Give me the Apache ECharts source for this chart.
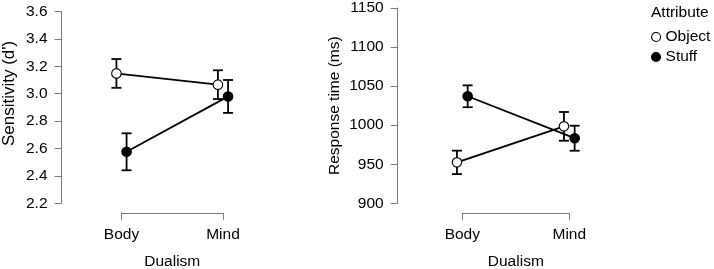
<!DOCTYPE html>
<html>
<head>
<meta charset="utf-8">
<script src="https://cdn.jsdelivr.net/npm/echarts@6/dist/echarts.min.js"></script>
<style>
html,body{margin:0;padding:0;background:#fff;}
#chart{width:714px;height:269px;}
</style>
</head>
<body>
<div id="chart"></div>
<script>
// ---- data ----
const categories = ['Body', 'Mind'];
const groups = ['Object', 'Stuff'];
const legendTitle = 'Attribute';
const xTitle = 'Dualism';

// Sensitivity (d')
const sensObject = [3.148, 3.066];
const sensObjectErr = [0.105, 0.105];
const sensStuff = [2.576, 2.980];
const sensStuffErr = [0.135, 0.120];
const sensTicks = [2.2, 2.4, 2.6, 2.8, 3.0, 3.2, 3.4, 3.6];

// Response time (ms)
const rtObject = [952.4, 998.5];
const rtObjectErr = [15, 18.4];
const rtStuff = [1037.0, 983.3];
const rtStuffErr = [14, 16];
const rtTicks = [900, 950, 1000, 1050, 1100, 1150];

// ---- build ----
const FONT = 'Liberation Sans, Arial, Helvetica, sans-serif';
const FS = 15.5;
const AXIS_GREY = '#7a7a7a';
const DODGE = 0.05;

function pts(vals, shift) {
  return vals.map((v, i) => [i + 1 + shift, v]);
}
function errs(vals, e, shift) {
  return vals.map((v, i) => [i + 1 + shift, v, v - e[i], v + e[i]]);
}

function errSeries(name, idx, data) {
  return {
    name: name,
    type: 'custom',
    xAxisIndex: idx, yAxisIndex: idx,
    clip: false,
    z: 1,
    silent: true,
    data: data,
    renderItem: function (params, api) {
      const x = api.value(0);
      const lo = api.coord([x, api.value(2)]);
      const hi = api.coord([x, api.value(3)]);
      const hw = 5;
      const st = { stroke: '#000', lineWidth: 1.8 };
      return {
        type: 'group',
        children: [
          { type: 'line', shape: { x1: lo[0], y1: lo[1], x2: hi[0], y2: hi[1] }, style: st },
          { type: 'line', shape: { x1: lo[0] - hw, y1: lo[1], x2: lo[0] + hw, y2: lo[1] }, style: st },
          { type: 'line', shape: { x1: hi[0] - hw, y1: hi[1], x2: hi[0] + hw, y2: hi[1] }, style: st }
        ]
      };
    }
  };
}

function lineSeries(name, idx, data, filled) {
  return {
    name: name,
    type: 'line',
    xAxisIndex: idx, yAxisIndex: idx,
    clip: false,
    z: 3,
    symbol: 'circle',
    symbolSize: 9.5,
    showSymbol: true,
    animation: false,
    data: data,
    lineStyle: { color: '#000', width: 1.8 },
    itemStyle: { color: filled ? '#000' : '#fff', borderColor: '#000', borderWidth: 1.1 },
    emphasis: { disabled: true }
  };
}

function xAxisDef(idx, offset) {
  return {
    type: 'value', gridIndex: idx,
    min: 1, max: 2, interval: 1,
    offset: offset,
    name: xTitle, nameLocation: 'middle', nameGap: 41,
    nameTextStyle: { fontFamily: FONT, fontSize: FS, color: '#000' },
    axisLine: { show: true, lineStyle: { color: AXIS_GREY, width: 1 } },
    axisTick: { show: true, length: 7, lineStyle: { color: AXIS_GREY, width: 1 } },
    axisLabel: {
      margin: 14, fontFamily: FONT, fontSize: FS, color: '#000',
      formatter: v => categories[Math.round(v) - 1] || ''
    },
    splitLine: { show: false }
  };
}

function yAxisDef(idx, ticks, offset, name, gap, decimals, nameFs, namePad) {
  return {
    type: 'value', gridIndex: idx,
    min: ticks[0], max: ticks[ticks.length - 1],
    interval: ticks[1] - ticks[0],
    offset: offset,
    name: name, nameLocation: 'middle', nameGap: gap,
    nameTextStyle: { fontFamily: FONT, fontSize: nameFs, color: '#000', padding: namePad },
    axisLine: { show: true, lineStyle: { color: AXIS_GREY, width: 1 } },
    axisTick: { show: true, length: 7, lineStyle: { color: AXIS_GREY, width: 1 } },
    axisLabel: {
      margin: 14, fontFamily: FONT, fontSize: FS, color: '#000',
      formatter: v => v.toFixed(decimals)
    },
    splitLine: { show: false }
  };
}

const option = {
  animation: false,
  backgroundColor: '#fff',
  textStyle: { fontFamily: FONT },
  title: {
    text: legendTitle,
    left: 646, top: 0,
    textStyle: { fontFamily: FONT, fontSize: FS, fontWeight: 'normal', color: '#000' }
  },
  legend: {
    orient: 'vertical',
    left: 646, top: 24,
    itemWidth: 9, itemHeight: 9, itemGap: 4,
    icon: 'circle',
    selectedMode: false,
    textStyle: { fontFamily: FONT, fontSize: FS, color: '#000' },
    data: [
      { name: groups[0], itemStyle: { color: '#fff', borderColor: '#000', borderWidth: 1.1 } },
      { name: groups[1], itemStyle: { color: '#000', borderColor: '#000', borderWidth: 1.1 } }
    ]
  },
  grid: [
    { left: 121.5, top: 11.5, width: 101.5, height: 191.8, containLabel: false, outerBoundsMode: 'none' },
    { left: 462.3, top: 8, width: 107, height: 195.3, containLabel: false, outerBoundsMode: 'none' }
  ],
  xAxis: [xAxisDef(0, 9.5), xAxisDef(1, 9.5)],
  yAxis: [
    yAxisDef(0, sensTicks, 60, "Sensitivity (d')", 44, 1, 17, [0, 0, 0, 28]),
    yAxisDef(1, rtTicks, 64.6, 'Response time (ms)', 55, 0, FS, 0)
  ],
  series: [
    errSeries('errObjectSens', 0, errs(sensObject, sensObjectErr, -DODGE)),
    errSeries('errStuffSens', 0, errs(sensStuff, sensStuffErr, DODGE)),
    lineSeries(groups[0], 0, pts(sensObject, -DODGE), false),
    lineSeries(groups[1], 0, pts(sensStuff, DODGE), true),
    errSeries('errObjectRt', 1, errs(rtObject, rtObjectErr, -DODGE)),
    errSeries('errStuffRt', 1, errs(rtStuff, rtStuffErr, DODGE)),
    lineSeries(groups[0], 1, pts(rtObject, -DODGE), false),
    lineSeries(groups[1], 1, pts(rtStuff, DODGE), true)
  ]
};

const chart = echarts.init(document.getElementById('chart'), null, { renderer: 'canvas' });
chart.setOption(option);
</script>
</body>
</html>
